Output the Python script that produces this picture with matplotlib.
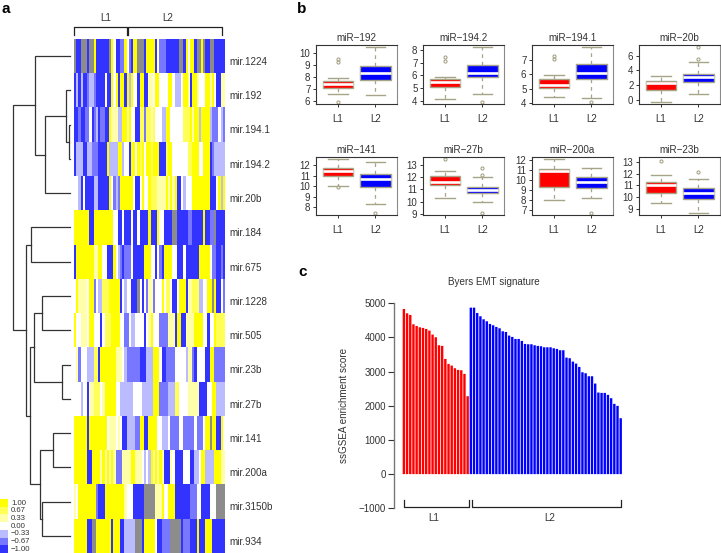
import numpy as np
import matplotlib
matplotlib.use("Agg")
import matplotlib.pyplot as plt
from matplotlib.colors import ListedColormap, BoundaryNorm

plt.rcParams['font.family'] = ['Liberation Sans', 'DejaVu Sans']

W, H = 721, 553

# heatmap data, one letter per sample
mirnas = ["mir.1224", "mir.192", "mir.194.1", "mir.194.2", "mir.20b", "mir.184", "mir.675", "mir.1228",
          "mir.505", "mir.23b", "mir.27b", "mir.141", "mir.200a", "mir.3150b", "mir.934"]
heat_rows = [
    "gBBgggBggY BBBBBBgYwB BmmYwmBYYg ggBYYYYBwm mmBBBBBBgg BYwYYBggYg BBggBBBBB",
    "BbBbBBmbbm BBBBwBBYwY BYYBYbYwwB YYBBllwYYw wwwYYwbbbw YYlBYYlwww YYlYwBBll",
    "BBmBBmmwBm bBmmBBYlll bbYYlYwwBB yymyylywww bbYYwwwwww yyyYlYYbYY YYbmmmwbm",
    "BbbbBBbbmm mBBBBYbbbb YYbwwBYYwY yYwYYyYYYB BByYYwwwww wwyyYYYwwY YYBmbbbbb",
    "wwbBwBBBBb bBBBBBYwmb mYYYYYYwBB wYwwYyyyll llYlYlYBBw bwwwYYYYYY YYBBBwYbY",
    "YYYYYYYBBY YYYYYYYYww BBwBBBwBBw BBBBYBBBYw wBBBBggBBB BBmmBBBBBY BBmmgBBBB",
    "BYYYYYYYYl lYYwwBBBYw bmBmmmwBBB BBYYYwwBwm BYYYYwwBBB wBBBBBBYYY YYwmmBBmB",
    "wYllllwYYm wbbyyyYYYY YBwbwwBBBg wBwmllmwww YwyywBBwYY YBllyyybbw wYYgYBBwm",
    "YwwlllwYYw wwBwyyyYYY Ywwmmwbbww wwBwlYwwwm mmmlllBYYB BllllYYYYw wBwwYyyyy",
    "wlmwwwbbby yBYYYYYYYl llwbmmmmmm BBBbbbYYYw BBmmmmwwww wbllmBwwww BBYYmmmmm",
    "wwwbwwBlly yywlYYYYYw wbbbbbbwww wbbbbbYYYm mmmbbbyyww wwlllllBBB BwwYYbbbb",
    "YYYYYYBYYY YYYYYwlllw lwBBbbbbmm YYBBYYYYww bbbwmmmmww mmmmmwmmmw YYgYYBBYw",
    "YYYYYYBBYY YYlYlYlYlm mmllllYYll lwbwbYlYlY lBBBlwBBBB wwwBBbbwYY bbbbYYYll",
    "lwYYYYYYYY mBBBYYYYYY YYYlwwwBBB BBggggglll YwwYYYBBBB BBBmmmwwBB BBwwwgggg",
    "YYYYYYBBgg YYYYYYYBYY YBBbbbbbgg gBYYYYYwBB mmmmgggggB mmmBBBYBBB YYYBBBBBB",
]
heat_codes = {"Y": 1.0, "y": 0.67, "l": 0.33, "w": 0.0, "b": -0.33, "m": -0.67, "B": -1.0, "g": np.nan}
heat_split = 24.5

legend_values = [1.0, 0.67, 0.33, 0.0, -0.33, -0.67, -1.0]
legend_labels = ["1.00", "0.67", "0.33", "0.00", "\u22120.33", "\u22120.67", "\u22121.00"]
heat_colors = ["#3333ff", "#7777ff", "#bbbbff", "#ffffff", "#ffffaa", "#ffff55", "#ffff00"]

# dendrogram, (height, left, right), leaves are row numbers
dendro = (57.5,
          (35.5, 0, (25, (4, 1, (1.5, 2, 3)), 4)),
          (44, (39.5, 5, 6),
           (40.5, (36, (28, 7, 8), (8.5, 9, 10)),
            (30.5, (17.5, 11, 12), (28.5, 13, 14)))))

# boxplots: q1, median, q3, low whisker, high whisker, outliers
box_titles = ["miR\u2212192", "miR\u2212194.2", "miR\u2212194.1", "miR\u221220b",
              "miR\u2212141", "miR\u221227b", "miR\u2212200a", "miR\u221223b"]
box_l1 = [
    (7.12, 7.43, 7.70, 6.62, 7.96, [9.52, 9.27, 5.95]),
    (5.10, 5.52, 5.75, 4.18, 5.86, [7.45, 7.16]),
    (5.06, 5.24, 5.68, 4.41, 5.98, [7.25, 7.07]),
    (1.32, 2.25, 2.53, -0.30, 3.30, []),
    (11.0, 11.44, 11.72, 10.03, 12.56, [9.94]),
    (11.33, 11.6, 12.07, 10.26, 12.53, [13.52]),
    (9.25, 10.87, 11.1, 8.0, 12.07, []),
    (10.34, 11.05, 11.27, 9.52, 11.88, [13.1]),
]
box_l2 = [
    (7.73, 8.32, 8.97, 6.48, 10.5, []),
    (5.86, 6.22, 6.85, 4.58, 8.2, [3.9]),
    (5.68, 6.1, 6.7, 4.39, 7.88, [4.07]),
    (2.4, 3.1, 3.57, 0.82, 5.1, [7.13, 5.5]),
    (9.88, 10.66, 11.1, 8.28, 12.25, [7.44]),
    (10.67, 10.95, 11.22, 9.93, 12.0, [12.8, 12.18, 9.03]),
    (9.12, 9.72, 10.28, 8.13, 11.14, [6.67]),
    (9.85, 10.34, 10.75, 8.59, 11.58, [12.18]),
]
box_ylims = [(5.75, 10.7), (3.76, 8.39), (3.95, 8.04), (-0.54, 7.44),
             (7.28, 12.75), (8.89, 13.68), (6.47, 12.26), (8.45, 13.44)]
box_yticks = [[6, 7, 8, 9, 10], [4, 5, 6, 7, 8], [4, 5, 6, 7], [0, 2, 4, 6],
              [8, 9, 10, 11, 12], [9, 10, 11, 12, 13], [7, 8, 9, 10, 11, 12], [9, 10, 11, 12, 13]]
box_left = [316, 423, 532, 639]

# ssGSEA bars
scores_l1 = [4834, 4708, 4659, 4386, 4337, 4298, 4279, 4250, 4201, 4084, 4006, 3772, 3753, 3372, 3226,
             3177, 3099, 3051, 3041, 2934, 2281]
scores_l2 = [4873, 4873, 4717, 4620, 4532, 4474, 4396, 4357, 4308, 4269, 4181, 4162, 4055, 4016, 3957,
             3957, 3899, 3811, 3801, 3801, 3772, 3753, 3743, 3713, 3713, 3713, 3684, 3665, 3626, 3626,
             3411, 3392, 3294, 3236, 3138, 2982, 2953, 2865, 2865, 2651, 2388, 2378, 2378, 2320, 2222,
             2057, 1998, 1637]

DARK = "#333333"
OLIVE = "#a8a488"


def px_axes(x0, y0, x1, y1):
    # axes from pixel box, y counted from the top
    return fig.add_axes([x0 / W, 1 - y1 / H, (x1 - x0) / W, (y1 - y0) / H])


def px_text(x, y, s, **kw):
    kw.setdefault("color", DARK)
    fig.text(x / W, 1 - y / H, s, **kw)


fig = plt.figure(figsize=(W / 100, H / 100), dpi=100)

px_text(1, 9, "a", fontsize=11, fontweight="bold", color="black", va="center")
px_text(297, 9, "b", fontsize=11, fontweight="bold", color="black", va="center")
px_text(298, 272, "c", fontsize=11, fontweight="bold", color="black", va="center")

# heatmap
matrix = np.array([[heat_codes[c] for c in r.replace(" ", "")] for r in heat_rows])
cmap = ListedColormap(heat_colors)
cmap.set_bad("#8c8c8c")
bounds = [-1.2, -0.85, -0.5, -0.15, 0.15, 0.5, 0.85, 1.2]
norm = BoundaryNorm(bounds, cmap.N)

ax = px_axes(73.5, 39, 224, 553)
n_cols = matrix.shape[1]
ax.imshow(matrix, cmap=cmap, norm=norm, aspect="auto", interpolation="nearest",
          extent=(0, n_cols, len(mirnas), 0))
ax.axis("off")
for i, name in enumerate(mirnas):
    ax.text(n_cols + 2.3, i + 0.67, name, fontsize=7.1, va="center", ha="left", color=DARK, clip_on=False)
for start, stop, lab, shift in [(0.4, heat_split - 0.1, "L1", 2.3), (heat_split + 0.4, n_cols - 0.9, "L2", -3.2)]:
    ax.plot([start, start, stop, stop], [-0.117, -0.35, -0.35, -0.117], color="#222222", lw=0.9, clip_on=False)
    ax.text((start + stop) / 2 + shift, -0.61, lab, fontsize=7.1, ha="center", va="center", color=DARK, clip_on=False)
# plot() above rescales the axes, put the limits back
ax.set_xlim(0, n_cols)
ax.set_ylim(len(mirnas), 0)

# dendrogram
dax = px_axes(0, 39, 70, 553)
dax.set_xlim(70, 0)
dax.set_ylim(len(mirnas), 0)
dax.axis("off")


def draw_tree(node):
    if not isinstance(node, tuple):
        return 0, node + 0.5
    h, a, b = node
    ha, ya = draw_tree(a)
    hb, yb = draw_tree(b)
    dax.plot([ha, h, h, hb], [ya, ya, yb, yb], color=DARK, lw=0.9, solid_joinstyle="miter", clip_on=False)
    return h, (ya + yb) / 2


draw_tree(dendro)

# colour key
kax = px_axes(0, 499, 7.3, 553)
kax.imshow(np.array(legend_values).reshape(-1, 1), cmap=cmap, norm=norm, aspect="auto",
           interpolation="nearest", extent=(0, 1, len(legend_values), 0))
kax.axis("off")
for i, lab in enumerate(legend_labels):
    kax.text(1.5, i + 0.52, lab, fontsize=5.6, va="center", ha="left", color=DARK, clip_on=False)

# boxplots
for k in range(8):
    row, col = k // 4, k % 4
    left = box_left[col]
    if row == 0:
        bx = px_axes(left, 45, left + 81, 104)
    else:
        bx = px_axes(left, 157, left + 81, 215)
    stats = []
    for lab, v in zip(["L1", "L2"], [box_l1[k], box_l2[k]]):
        stats.append({"label": lab, "q1": v[0], "med": v[1], "q3": v[2],
                      "whislo": v[3], "whishi": v[4], "fliers": v[5]})
    art = bx.bxp(stats, positions=[1, 2], widths=0.8, patch_artist=True,
                 boxprops=dict(edgecolor=OLIVE, linewidth=1.0),
                 medianprops=dict(color="white", linewidth=1.9, solid_capstyle="butt"),
                 whiskerprops=dict(color=OLIVE, linewidth=0.9, linestyle=(0, (3, 3))),
                 capprops=dict(color=OLIVE, linewidth=1.0),
                 flierprops=dict(marker="o", markersize=2.2, markerfacecolor="none",
                                 markeredgecolor=OLIVE, markeredgewidth=0.8))
    art["boxes"][0].set_facecolor("#ff0000")
    art["boxes"][1].set_facecolor("#0000ff")
    for cap in art["caps"]:
        x = cap.get_xdata().mean()
        cap.set_xdata([x - 0.26, x + 0.26])
    bx.set_xlim(0.425, 2.57)
    bx.set_ylim(*box_ylims[k])
    bx.set_yticks(box_yticks[k])
    bx.set_xticks([1, 2])
    bx.set_xticklabels(["L1", "L2"])
    bx.tick_params(axis="both", labelsize=7, length=2.5, width=0.7, colors=DARK)
    bx.tick_params(axis="x", pad=5)
    bx.tick_params(axis="y", pad=1.5)
    for sp in bx.spines.values():
        sp.set_linewidth(0.8)
        sp.set_color(DARK)
    bx.spines["right"].set_color("#8a8a8a")
    bx.set_title(box_titles[k], fontsize=7.1, color=DARK, pad=3)

# bar chart
bar_ax = px_axes(394, 303.3, 625, 508.3)
n1, n2 = len(scores_l1), len(scores_l2)
# snap off so the gaps stay even between bars
bar_ax.bar(np.arange(n1), scores_l1, width=0.75, color="#ff0000", snap=False)
bar_ax.bar(np.arange(n1, n1 + n2), scores_l2, width=0.75, color="#0000ff", snap=False)
bar_ax.set_xlim(-3.1, n1 + n2 + 0.35)
bar_ax.set_ylim(-1000, 5000)
bar_ax.set_yticks([-1000, 0, 1000, 2000, 3000, 4000, 5000])
bar_ax.set_xticks([])
for name in ["top", "right", "bottom"]:
    bar_ax.spines[name].set_visible(False)
bar_ax.spines["left"].set_color("#777777")
bar_ax.spines["left"].set_linewidth(1.0)
bar_ax.tick_params(axis="y", labelsize=7, length=4.3, width=0.8, color=DARK, labelcolor=DARK, pad=1.5)
for start, stop, lab, shift in [(0.03, n1 - 0.6, "L1", -1), (n1 + 0.27, n1 + n2 - 0.9, "L2", 1.2)]:
    bar_ax.plot([start, start, stop, stop], [-750, -960, -960, -750], color="#222222", lw=0.9, clip_on=False)
    bar_ax.text((start + stop) / 2 + shift, -1275, lab, fontsize=7.1, ha="center", va="center", color=DARK, clip_on=False)
px_text(494, 282, "Byers EMT signature", fontsize=7.1, ha="center", va="center")
px_text(344, 405, "ssGSEA enrichment score", fontsize=7.1, ha="center", va="center", rotation=90)

fig.savefig("out.png", dpi=100)
